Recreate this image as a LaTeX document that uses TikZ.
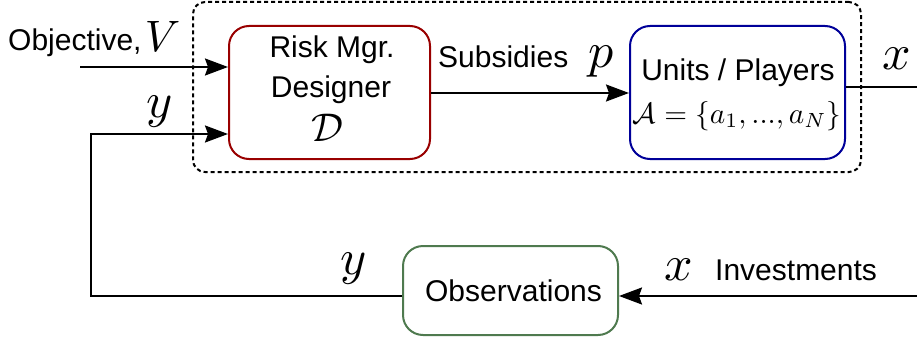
\documentclass[tikz,border=0pt]{standalone}
\usepackage{fontspec}
\setmainfont{Liberation Sans}
\usetikzlibrary{arrows.meta}
\definecolor{redbox}{HTML}{990000}
\definecolor{bluebox}{HTML}{000099}
\definecolor{greenbox}{HTML}{4F7A4F}
\tikzset{
  blk/.style={draw, line width=2pt, rounded corners=20pt, inner sep=0pt},
  frame/.style={draw, line width=2pt, dash pattern=on 4pt off 3pt, rounded corners=12pt, inner sep=0pt},
  conn/.style={line width=2pt},
  arr/.style={conn, -{Stealth[length=23pt,width=17pt,inset=3pt]}},
  txt/.style={anchor=base, inner sep=0pt, font=\fontsize{30}{36}\selectfont},
  mbig/.style={anchor=base, inner sep=0pt, scale=5},
  mmid/.style={anchor=base, inner sep=0pt, scale=4},
  msml/.style={anchor=base, inner sep=0pt, scale=2.93},
}
\begin{document}
\begin{tikzpicture}[x=1pt,y=-1pt]
\useasboundingbox (0,0) rectangle (917,337);
% dashed group frame
\node[frame, minimum width=668pt, minimum height=170pt] (grp) at (527,87) {};
% boxes
\node[blk, draw=redbox, minimum width=201pt, minimum height=133pt] (risk) at (329.5,92.5) {};
\node[blk, draw=bluebox, minimum width=215pt, minimum height=133pt] (units) at (737.5,92.5) {};
\node[blk, draw=greenbox, minimum width=215pt, minimum height=89pt] (obs) at (510.5,290.5) {};
% box texts
\node[txt] (riskA) at (332,57) {Risk Mgr.};
\node[txt] (riskB) at (331,97) {Designer};
\node[mmid] (riskC) at (327.5,141) {$\mathcal{D}$};
\node[txt] (unitsA) at (738,81) {Units / Players};
\node[msml] (unitsB) at (737,123) {$\mathcal{A}=\{a_1,...,a_N\}$};
\node[txt] (obsA) at (513.5,301) {Observations};
% free ends
\coordinate (objS) at (80,67);
\coordinate (yTop) at (91,134);
\coordinate (yBot) at (91,296);
\coordinate (xEnd) at (917,87);
\coordinate (invS) at (917,296);
% connectors
\draw[arr] (objS) -- (objS -| risk.west);
\draw[arr] (obs.west |- yBot) -- (yBot) -- (yTop) -- (yTop -| risk.west);
\draw[arr] (risk.east |- 0,93) -- (units.west |- 0,93);
\draw[conn] (units.east |- xEnd) -- (xEnd);
\draw[arr] (invS) -- (invS -| obs.east);
% labels
\node[txt, anchor=base west] (objL) at (8,50) {Objective,};
\node[mmid, anchor=base west, scale=1.1] (objV) at (144,51) {$V$};
\node[mbig] (yL1) at (160,117) {$y$};
\node[txt, anchor=base west] (subL) at (438,67) {Subsidies};
\node[mbig] (pL) at (601,67) {$p$};
\node[mbig] (xL1) at (897,70) {$x$};
\node[mbig] (yL2) at (354,274) {$y$};
\node[mbig] (xL2) at (679,280) {$x$};
\node[txt, anchor=base west] (invL) at (715,280) {Investments};
\end{tikzpicture}
\end{document}
